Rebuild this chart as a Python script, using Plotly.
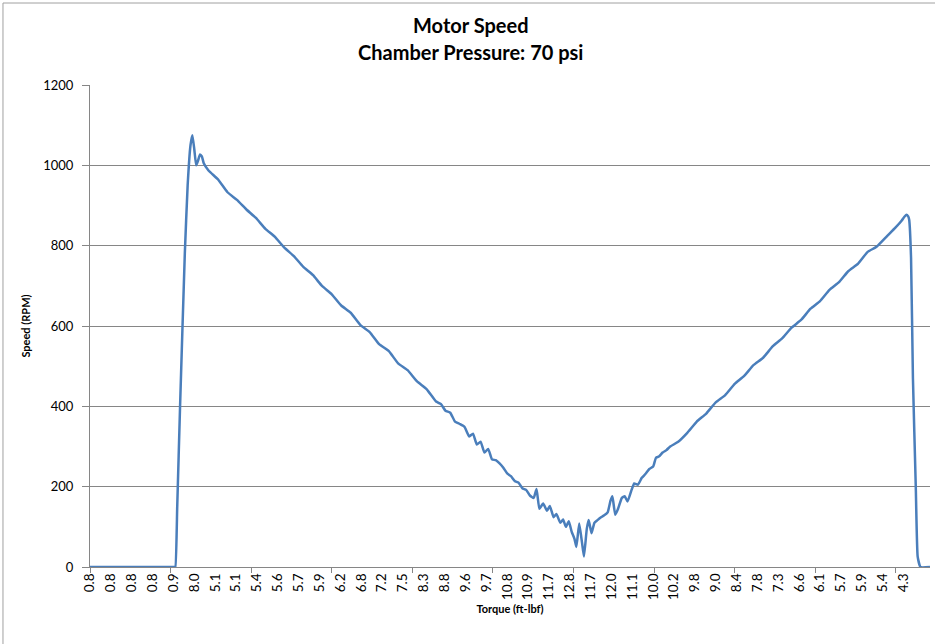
import plotly.graph_objects as go

# Torque tick labels (one every 22 samples)
torque_labels = ["0.8", "0.8", "0.8", "0.8", "0.9", "8.0", "5.1", "5.1", "5.4", "5.6",
                 "5.7", "5.9", "6.2", "6.8", "7.2", "7.5", "8.3", "8.8", "9.6", "9.7",
                 "10.8", "10.9", "11.7", "12.8", "11.7", "12.0", "11.1", "10.0", "10.2", "9.8",
                 "9.0", "8.4", "7.8", "7.3", "6.6", "6.1", "5.7", "5.9", "5.4", "4.3"]
label_every = 22
tick_every = 85
n_samples = 887

# Sample number in the log and motor speed (RPM)
sample_no = [0, 40, 89, 90, 92, 95, 100, 103, 106, 108, 110, 112, 114, 116, 118, 120,
             125, 135, 145, 155, 165, 175, 185, 195, 205, 215, 225, 235, 245, 255, 265,
             275, 285, 295, 305, 315, 325, 335, 345, 355, 365, 370, 375, 380, 385, 390,
             395, 400, 404, 408, 412, 416, 420, 424, 428, 432, 436, 440, 444, 448, 452,
             456, 460, 464, 468, 471, 474, 478, 482, 485, 489, 492, 496, 499, 502, 505,
             508, 511, 513, 516, 519, 521, 524, 526, 529, 532, 535, 538, 542, 546, 549,
             551, 554, 557, 561, 564, 567, 571, 574, 578, 582, 586, 590, 594, 597, 600,
             604, 608, 612, 620, 630, 640, 650, 660, 670, 680, 690, 700, 710, 720, 730,
             740, 750, 760, 770, 780, 790, 800, 810, 820, 830, 840, 850, 856, 859, 861,
             863, 864, 866, 868, 871, 873, 876, 886]
speed_rpm = [0, 0, 0, 0, 150, 400, 780, 950, 1050, 1075, 1040, 1000, 1012, 1027, 1022, 1005,
             987, 965, 933, 914, 890, 869, 842, 822, 795, 774, 747, 727, 699, 679, 651,
             633, 603, 585, 555, 538, 507, 490, 462, 443, 412, 406, 389, 384, 362, 356,
             349, 325, 332, 305, 312, 285, 294, 268, 266, 258, 247, 233, 226, 214, 210,
             196, 192, 178, 172, 194, 145, 158, 140, 152, 124, 132, 110, 118, 100, 114,
             88, 70, 50, 108, 60, 26, 95, 117, 84, 110, 116, 122, 128, 136, 165,
             176, 130, 145, 172, 176, 163, 190, 208, 205, 222, 232, 244, 250, 272, 275,
             285, 291, 300, 311, 334, 362, 382, 410, 428, 456, 476, 503, 521, 549, 569,
             596, 615, 643, 662, 690, 709, 737, 755, 784, 798, 822, 846, 862, 872, 877,
             873, 865, 770, 470, 200, 26, 0, 0]

y_ticks = [0, 200, 400, 600, 800, 1000, 1200]
title_lines = ["Motor Speed", "Chamber Pressure: 70 psi"]

FONT = "Lato, 'Open Sans', sans-serif"

fig = go.Figure()
fig.add_trace(go.Scatter(
    x=sample_no, y=speed_rpm, mode="lines",
    line=dict(color="#4A7EBB", width=2.5, shape="spline", smoothing=0.4),
    showlegend=False, hoverinfo="skip",
))

fig.update_layout(
    width=935, height=644,
    margin=dict(l=90, r=5, t=85, b=77),
    paper_bgcolor="white", plot_bgcolor="white",
    font=dict(family=FONT, color="#000000"),
    xaxis=dict(
        range=[0, n_samples - 1],
        tickmode="array",
        tickvals=[i * label_every for i in range(len(torque_labels))],
        ticktext=torque_labels,
        tickangle=-90,
        ticks="",
        tickfont=dict(family=FONT, size=13.5, color="#000000"),
        showgrid=False, zeroline=False,
        showline=True, linecolor="#868686", linewidth=1,
        minor=dict(tickmode="linear", tick0=0, dtick=tick_every, ticks="outside",
                   ticklen=5, tickcolor="#868686", tickwidth=1, showgrid=False),
        title=dict(text="Torque (ft-lbf)", standoff=6,
                   font=dict(family=FONT, size=11, color="#000000", weight="bold")),
    ),
    yaxis=dict(
        range=[0, 1200],
        tickmode="array", tickvals=y_ticks,
        ticks="outside", ticklen=7, tickcolor="#868686",
        ticklabelstandoff=6,
        tickfont=dict(family=FONT, size=13, color="#000000"),
        showgrid=True, gridcolor="#868686", gridwidth=1,
        zeroline=False,
        showline=True, linecolor="#868686", linewidth=1,
        title=dict(text="Speed (RPM)", standoff=10,
                   font=dict(family=FONT, size=11, color="#000000", weight="bold")),
    ),
)

# two-line chart title
for txt, ypos in zip(title_lines, [1.1245, 1.0685]):
    fig.add_annotation(text=txt, xref="paper", yref="paper", x=0.4524, y=ypos,
                       xanchor="center", yanchor="middle", showarrow=False,
                       font=dict(family=FONT, size=20, color="#000000", weight="bold"))

# chart-area border (top and left edges visible)
fig.add_shape(type="line", xref="paper", yref="paper",
              x0=-0.1036, x1=1.01, y0=1.1701, y1=1.1701,
              line=dict(color="#A0A0A0", width=1))
fig.add_shape(type="line", xref="paper", yref="paper",
              x0=-0.1036, x1=-0.1036, y0=-0.16, y1=1.1701,
              line=dict(color="#A0A0A0", width=1))

fig.write_html("out.html",
               config={"displayModeBar": False},
               post_script="document.body.style.margin='0';document.body.style.padding='0';")
